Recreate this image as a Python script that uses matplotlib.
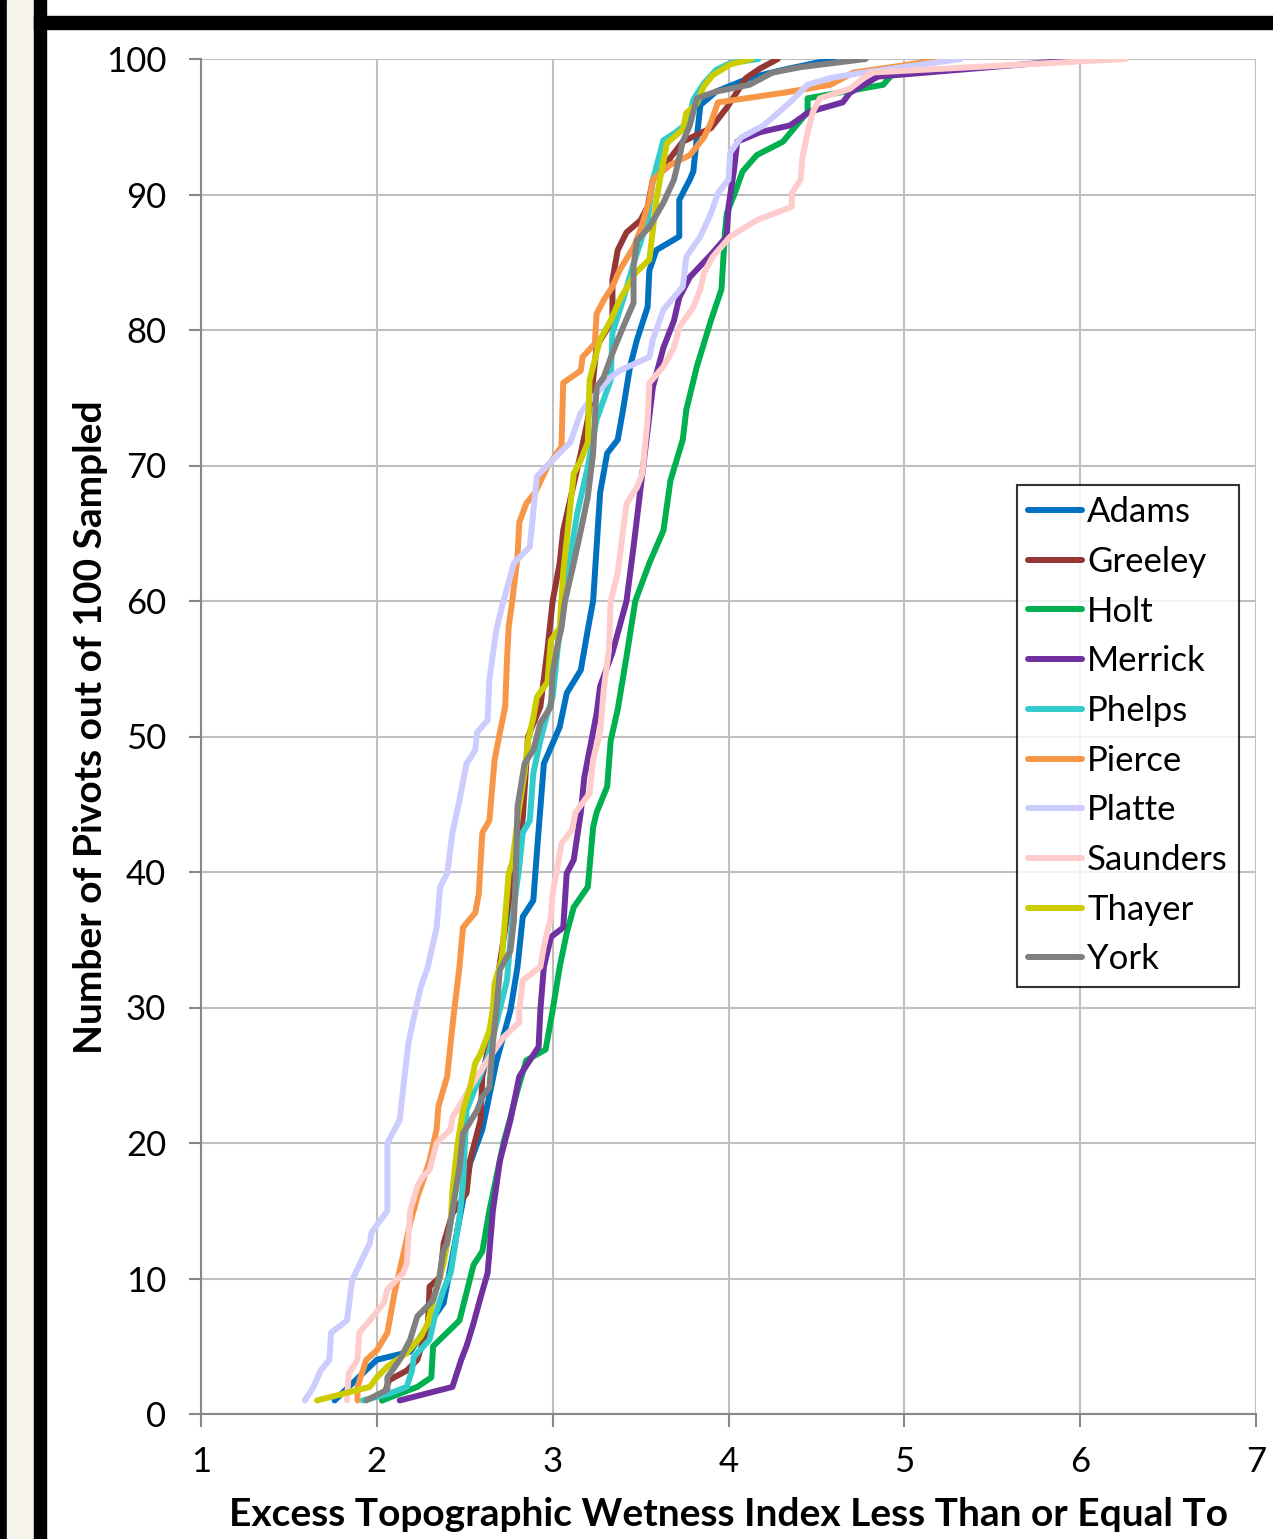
import matplotlib.pyplot as plt
import matplotlib.patches as mpatches

# data (x = ETWI, y = cumulative pivots)
adams_x = [1.76, 2.0, 2.19, 2.38, 2.53, 2.6, 2.68, 2.76, 2.8, 2.83, 2.89, 2.91, 2.95, 3.04, 3.08,
           3.16, 3.2, 3.23, 3.27, 3.31, 3.37, 3.40, 3.44, 3.48, 3.54, 3.55, 3.59, 3.72, 3.72, 3.78,
           3.8, 3.82, 3.84, 3.93, 4.12, 4.31, 4.6]
adams_y = [1, 4, 4.6, 8.2, 18.5, 21, 26, 29.8, 33, 36.7, 37.9, 41.4, 48, 50.7, 53.2,
           54.9, 57.9, 60, 68, 70.9, 71.9, 74.1, 77.3, 79.3, 81.7, 84.4, 85.9, 86.9, 89.6, 91.1,
           91.7, 94.2, 96.6, 97.6, 98.6, 99.2, 100]

greeley_x = [2.03, 2.07, 2.17, 2.23, 2.29, 2.30, 2.36, 2.38, 2.43, 2.51, 2.53, 2.59, 2.6, 2.64,
             2.66, 2.72, 2.83, 2.86, 2.93, 2.97, 3.0, 3.04, 3.06, 3.1, 3.16, 3.2, 3.23, 3.25,
             3.34, 3.34, 3.37, 3.42, 3.5, 3.54, 3.57, 3.61, 3.74, 3.9, 3.99, 4.1, 4.18, 4.28]
greeley_y = [1, 2.5, 3.2, 4, 6.4, 9.4, 10.1, 12.6, 14.8, 16.3, 18.7, 21.7, 24.9, 27.4,
             29.8, 35, 44, 50, 52.2, 56.4, 60, 62.8, 65.2, 67.5, 70.9, 73.4, 76.3, 78.8,
             80.7, 83.7, 85.9, 87.2, 88.1, 89.1, 91.1, 91.7, 93.9, 94.9, 96.4, 98.6, 99.3, 100]

holt_x = [2.03, 2.23, 2.31, 2.32, 2.47, 2.55, 2.6, 2.64, 2.72, 2.76, 2.8, 2.85, 2.96, 3.0,
          3.04, 3.08, 3.12, 3.2, 3.23, 3.25, 3.31, 3.33, 3.37, 3.42, 3.47, 3.55, 3.63, 3.67,
          3.74, 3.76, 3.82, 3.9, 3.96, 3.98, 3.99, 4.03, 4.08, 4.16, 4.31, 4.45, 4.45, 4.88,
          4.94, 5.16]
holt_y = [1, 2, 2.7, 5, 6.9, 11, 12, 15, 20, 21.9, 23.9, 26.1, 26.9, 29.8,
          33, 35.5, 37.4, 38.9, 43.3, 44.4, 46.3, 49.7, 52, 55.9, 60, 62.8, 65.2, 68.9,
          71.9, 74.1, 77.3, 80.7, 83, 87.2, 88.6, 89.9, 91.7, 92.9, 93.9, 96.1, 97.1, 98.1,
          99, 100]

merrick_x = [2.13, 2.43, 2.48, 2.51, 2.55, 2.59, 2.63, 2.66, 2.7, 2.76, 2.81, 2.87, 2.92, 2.93,
             2.95, 2.99, 3.06, 3.08, 3.12, 3.16, 3.18, 3.21, 3.25, 3.27, 3.34, 3.42, 3.46, 3.51,
             3.57, 3.63, 3.69, 3.72, 3.78, 3.91, 3.99, 4.0, 4.03, 4.05, 4.18, 4.35, 4.46, 4.65,
             4.69, 4.85, 6.04]
merrick_y = [1, 2, 4, 5, 6.7, 8.6, 10.4, 15, 18.7, 21.7, 24.9, 26.1, 27.1, 29.8,
             33, 35.2, 35.9, 39.9, 40.9, 44.4, 47, 49, 51.7, 53.7, 56.2, 60, 64, 69.4,
             75.8, 78.7, 80.7, 82.4, 83.9, 85.7, 86.9, 89.1, 91.7, 93.9, 94.6, 95.1, 96.1, 96.8,
             97.5, 98.7, 100]

phelps_x = [1.92, 2.07, 2.17, 2.2, 2.21, 2.3, 2.33, 2.38, 2.42, 2.47, 2.49, 2.51, 2.57, 2.63,
            2.66, 2.74, 2.77, 2.81, 2.83, 2.87, 2.89, 2.93, 2.97, 3.0, 3.04, 3.06, 3.14, 3.2,
            3.25, 3.33, 3.34, 3.4, 3.46, 3.54, 3.57, 3.63, 3.69, 3.74, 3.78, 3.8, 3.86, 3.93,
            4.01, 4.17]
phelps_y = [1, 1.5, 2, 3.2, 4.2, 5.5, 7.2, 9.2, 10.4, 14.5, 17, 22.4, 24.4, 26.3,
            27.8, 32, 36.5, 40.4, 42.9, 43.8, 47.3, 49.7, 51.7, 52.9, 58, 60, 66.5, 69.9,
            73.4, 76.3, 79.8, 82.2, 84.9, 88.1, 91.1, 94, 94.5, 95, 95.8, 97, 98.2, 99.2,
            99.7, 100]

pierce_x = [1.89, 1.89, 1.94, 2.0, 2.06, 2.1, 2.13, 2.19, 2.23, 2.27, 2.3, 2.34, 2.35, 2.4,
            2.42, 2.44, 2.47, 2.49, 2.56, 2.58, 2.6, 2.64, 2.67, 2.7, 2.73, 2.74, 2.75, 2.77,
            2.8, 2.81, 2.85, 2.9, 2.97, 3.05, 3.06, 3.16, 3.17, 3.24, 3.25, 3.29, 3.34, 3.38,
            3.46, 3.5, 3.55, 3.57, 3.67, 3.78, 3.86, 3.9, 3.94, 4.31, 4.58, 4.71, 4.98, 5.22]
pierce_y = [1, 2, 4, 4.7, 6, 8.9, 10.6, 14.1, 16, 17.5, 18.7, 21, 22.7, 24.9,
            27.4, 29.8, 33, 35.9, 37, 38.4, 42.9, 43.8, 48.3, 50.3, 52.2, 55.6, 58.1, 60,
            63.2, 65.8, 67.2, 68, 69.9, 71.4, 76.1, 77, 78, 79, 81.2, 82.2, 83.2, 84.4,
            86.1, 87.4, 89.6, 91.1, 92.2, 92.9, 94.2, 95.3, 96.8, 97.5, 98.1, 99, 99.5, 100]

platte_x = [1.59, 1.64, 1.68, 1.73, 1.74, 1.83, 1.86, 1.96, 1.97, 2.06, 2.06, 2.13, 2.16, 2.18,
            2.22, 2.25, 2.29, 2.34, 2.36, 2.4, 2.43, 2.47, 2.51, 2.56, 2.57, 2.63, 2.64, 2.68,
            2.72, 2.78, 2.87, 2.91, 3.0, 3.1, 3.16, 3.2, 3.33, 3.38, 3.55, 3.57, 3.63, 3.74,
            3.76, 3.84, 3.9, 3.94, 4.0, 4.01, 4.07, 4.2, 4.35, 4.45, 4.58, 4.77, 5.32]
platte_y = [1, 2, 3.2, 4, 6, 6.9, 9.9, 12.6, 13.4, 15, 20, 21.7, 25.2, 27.4,
            29.8, 31.5, 33, 35.9, 38.9, 39.9, 42.9, 45.3, 48, 49, 50.3, 51.2, 54.2, 57.9,
            60, 62.8, 64, 69.2, 70.4, 71.7, 73.9, 74.6, 76.5, 77, 78, 79.3, 81.5, 83.2,
            85.4, 86.9, 88.6, 90.1, 91.1, 93.1, 94.2, 95.1, 96.8, 98.1, 98.6, 99, 100]

saunders_x = [1.83, 1.84, 1.89, 1.9, 1.96, 2.04, 2.06, 2.15, 2.17, 2.19, 2.23, 2.26, 2.3, 2.34,
              2.42, 2.43, 2.49, 2.57, 2.64, 2.72, 2.81, 2.81, 2.83, 2.93, 2.95, 2.99, 3.0, 3.05,
              3.11, 3.13, 3.21, 3.23, 3.27, 3.29, 3.32, 3.33, 3.37, 3.42, 3.48, 3.51, 3.54, 3.55,
              3.63, 3.69, 3.72, 3.8, 3.84, 3.86, 3.91, 4.01, 4.16, 4.36, 4.36, 4.41, 4.42, 4.45,
              4.48, 4.52, 4.69, 4.77, 4.81, 6.26]
saunders_y = [1, 3, 4, 6, 6.9, 8.2, 9.2, 10.4, 11.1, 15, 16.8, 17.5, 18, 20,
              21, 21.9, 23.2, 24.9, 26.3, 27.8, 28.9, 29.8, 32, 33, 34.5, 36.7, 38.4, 42.1,
              43.1, 44.4, 45.8, 48.3, 50.3, 53.4, 56.4, 60, 62.1, 67.2, 68.4, 69.4, 73.4, 76.1,
              77.3, 78.7, 80.2, 81.7, 83, 84.2, 85.4, 86.9, 88.1, 89.1, 90.1, 91.1, 92.7, 94.6,
              96.1, 97.1, 97.8, 98.6, 99, 100]

thayer_x = [1.66, 1.96, 2.0, 2.06, 2.17, 2.25, 2.29, 2.32, 2.38, 2.42, 2.43, 2.46, 2.49, 2.53,
            2.56, 2.59, 2.62, 2.64, 2.66, 2.67, 2.71, 2.73, 2.75, 2.77, 2.81, 2.84, 2.86, 2.89,
            2.91, 2.97, 2.99, 3.04, 3.05, 3.06, 3.12, 3.16, 3.2, 3.21, 3.27, 3.33, 3.38, 3.47,
            3.55, 3.57, 3.59, 3.61, 3.65, 3.74, 3.76, 3.82, 3.86, 3.91, 4.01, 4.13]
thayer_y = [1, 2, 2.7, 3.5, 4.5, 5.7, 6.7, 8.4, 11.1, 14.1, 16.5, 20, 22.4, 24.1,
            25.9, 26.6, 27.6, 28.3, 29.8, 31.8, 33.5, 36.7, 39.9, 40.7, 44.8, 47.3, 49.7, 51.4,
            52.9, 54, 57.1, 58, 60, 62.1, 69.4, 70.4, 71.7, 76.3, 79.3, 80.7, 82.2, 84.2,
            85.2, 87.4, 89.6, 91.1, 93.8, 94.8, 96, 96.7, 98, 98.8, 99.6, 100]

york_x = [1.94, 2.06, 2.06, 2.13, 2.19, 2.23, 2.32, 2.35, 2.38, 2.4, 2.43, 2.47, 2.49, 2.57,
          2.6, 2.64, 2.66, 2.68, 2.7, 2.76, 2.78, 2.79, 2.8, 2.84, 2.89, 2.93, 2.99, 3.0,
          3.03, 3.05, 3.07, 3.12, 3.16, 3.2, 3.23, 3.25, 3.29, 3.34, 3.4, 3.46, 3.46, 3.48,
          3.55, 3.63, 3.69, 3.71, 3.74, 3.78, 3.82, 3.93, 4.12, 4.25, 4.41, 4.78]
york_y = [1, 1.8, 2.7, 4, 5.5, 7.2, 8.4, 9.7, 12.1, 12.6, 15, 18.2, 20.7, 22.4,
          23.4, 24.1, 27.4, 29.8, 32.8, 34.2, 36.5, 39.9, 44.8, 48, 49, 51, 52.2, 54.7,
          56.9, 58, 60, 62.8, 65.2, 67.7, 70.9, 75.8, 76.5, 78.3, 80.2, 82, 84.7, 86.6,
          87.6, 89.4, 91.1, 92.2, 93.9, 95.1, 97.1, 97.6, 98.1, 99, 99.4, 100]

names = ['Adams', 'Greeley', 'Holt', 'Merrick', 'Phelps', 'Pierce', 'Platte', 'Saunders',
         'Thayer', 'York']
xs = [adams_x, greeley_x, holt_x, merrick_x, phelps_x, pierce_x, platte_x, saunders_x,
      thayer_x, york_x]
ys = [adams_y, greeley_y, holt_y, merrick_y, phelps_y, pierce_y, platte_y, saunders_y,
      thayer_y, york_y]
colors = ['#0070C0', '#953735', '#00B050', '#7030A0', '#33CCCC', '#F79646', '#CCCCFF',
          '#FFCCCC', '#CCCC00', '#808080']

plt.rcParams['font.family'] = ['Lato', 'DejaVu Sans']

fig = plt.figure(figsize=(12.73, 15.39), dpi=100)
ax = fig.add_axes([201 / 1273, 1 - 1414 / 1539, 1055 / 1273, 1355 / 1539])

for x, y, c, n in zip(xs, ys, colors, names):
    ax.plot(x, y, color=c, lw=4.3, label=n, solid_capstyle='round', solid_joinstyle='round')

ax.set_xlim(1, 7)
ax.set_ylim(0, 100)
ax.set_yticks(range(0, 101, 10))
ax.set_xticks(range(1, 8))
ax.grid(True, color='#BFBFBF', lw=1.5)
ax.set_axisbelow(True)
for s in ['top', 'right']:
    ax.spines[s].set_visible(False)
for s in ['left', 'bottom']:
    ax.spines[s].set_color('#888888')
    ax.spines[s].set_linewidth(1.5)
ax.tick_params(axis='both', colors='#888888', length=9, width=1.5, labelsize=25,
               labelcolor='black', direction='out')
ax.tick_params(axis='y', pad=16)
ax.tick_params(axis='x', pad=14)

ax.set_xlabel('Excess Topographic Wetness Index Less Than or Equal To', fontsize=28,
              fontweight='bold', labelpad=14)
ax.set_ylabel('Number of Pivots out of 100 Sampled', fontsize=28, fontweight='bold')
ax.yaxis.set_label_coords(-0.088, 0.507)

leg = ax.legend(loc='upper left', bbox_to_anchor=(0.7735, 0.6856), fontsize=25,
                frameon=True, fancybox=False, edgecolor='black', handlelength=1.55,
                handletextpad=0.15, labelspacing=0.51, borderpad=0.32, borderaxespad=0)
leg.get_frame().set_linewidth(1.5)

# page decorations around the pasted chart
fig.patches.append(mpatches.Rectangle((0, 0), 7 / 1273, 1, transform=fig.transFigure,
                                      color='black', zorder=5))
fig.patches.append(mpatches.Rectangle((7 / 1273, 0), 27 / 1273, 1, transform=fig.transFigure,
                                      color='#F5F3EC', zorder=5))
fig.patches.append(mpatches.Rectangle((34 / 1273, 0), 12 / 1273, 1, transform=fig.transFigure,
                                      color='black', zorder=5))
fig.patches.append(mpatches.Rectangle((34 / 1273, 1 - 29 / 1539), 1, 13 / 1539,
                                      transform=fig.transFigure, color='black', zorder=5))

fig.savefig('out.png', dpi=100)
